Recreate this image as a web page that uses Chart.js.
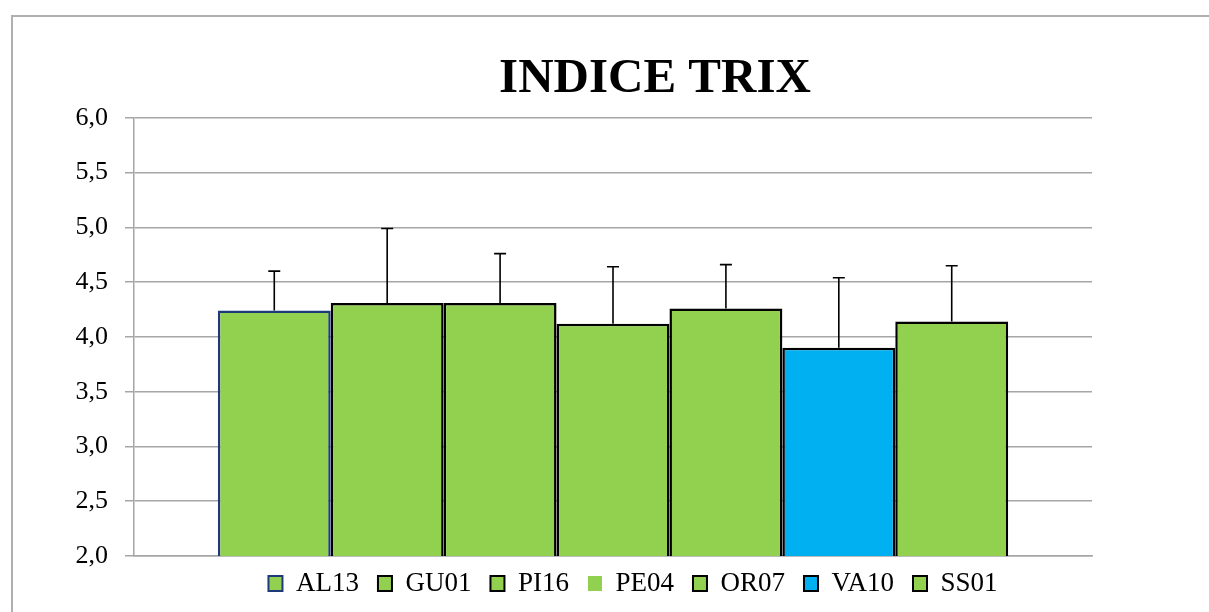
<!DOCTYPE html>
<html>
<head>
<meta charset="utf-8">
<script src="https://cdn.jsdelivr.net/npm/chart.js@4/dist/chart.umd.min.js"></script>
<style>
  html, body { margin: 0; padding: 0; background: #fff; overflow: hidden; }
  body { width: 1209px; height: 612px; position: relative; }
  .frame { position: absolute; left: 11px; top: 15px; width: 1400px; height: 700px;
           border-top: 2px solid #b0b0b0; border-left: 2px solid #b0b0b0; }
  #trix { position: absolute; left: 13px; top: 17px; }
</style>
</head>
<body>
<div class="frame"></div>
<canvas id="trix" width="1240" height="595"></canvas>
<script>
// stations, mean TRIX index and standard deviation
const stations = ['AL13', 'GU01', 'PI16', 'PE04', 'OR07', 'VA10', 'SS01'];
const trixMean = [4.24, 4.31, 4.31, 4.12, 4.26, 3.90, 4.14];
const trixSd   = [0.36, 0.68, 0.45, 0.52, 0.40, 0.64, 0.51];
const yTicks   = [2.0, 2.5, 3.0, 3.5, 4.0, 4.5, 5.0, 5.5, 6.0];

const fillColors   = ['#92d050', '#92d050', '#92d050', '#92d050', '#92d050', '#00b0f0', '#92d050'];
const borderColors = ['#1f3a7a', '#000', '#000', '#000', '#000', '#000', '#000'];
const legendBorder = [2, 2, 2, 0, 2, 2, 2];

const serif = "'Liberation Serif', 'Times New Roman', serif";

// upper error bar with cap on each bar
const errorBars = {
    id: 'errorBars',
    afterDatasetsDraw(chart) {
        const ctx = chart.ctx;
        const y = chart.scales.y;
        chart.data.datasets.forEach(function (ds, i) {
            const bar = chart.getDatasetMeta(i).data[0];
            const top = y.getPixelForValue(trixMean[i] + trixSd[i]);
            ctx.save();
            ctx.strokeStyle = '#000';
            ctx.lineWidth = 1.6;
            ctx.beginPath();
            ctx.moveTo(bar.x, bar.y);
            ctx.lineTo(bar.x, top);
            ctx.moveTo(bar.x - 6, top);
            ctx.lineTo(bar.x + 6, top);
            ctx.stroke();
            ctx.restore();
        });
    }
};

// title centred on the whole frame (a bit right of the legend),
// legend pulled up closer to the axis
const boxShift = {
    id: 'boxShift',
    afterLayout(chart) {
        if (chart.titleBlock) {
            chart.titleBlock.left += 22;
            chart.titleBlock.right += 22;
        }
        if (chart.legend) {
            chart.legend.top -= 5;
            chart.legend.bottom -= 5;
        }
    }
};

const datasets = stations.map(function (name, i) {
    return {
        label: name,
        data: [trixMean[i]],
        backgroundColor: fillColors[i],
        borderColor: borderColors[i],
        borderWidth: 2.5,
        borderSkipped: false,
        categoryPercentage: 0.825,
        barPercentage: 1.0
    };
});

new Chart(document.getElementById('trix'), {
    type: 'bar',
    data: { labels: [''], datasets: datasets },
    options: {
        responsive: false,
        animation: false,
        layout: { padding: { left: 0, right: 0, top: 0, bottom: 0 } },
        scales: {
            x: {
                grid: { display: false, drawTicks: false },
                border: { display: true, color: '#a6a6a6', width: 1.5 },
                ticks: { display: false }
            },
            y: {
                min: 2, max: 6,
                afterBuildTicks: function (s) { s.ticks = yTicks.map(function (v) { return { value: v }; }); },
                afterFit: function (s) { s.width = 121; },
                grid: { color: '#a6a6a6', lineWidth: 1.5, tickLength: 9 },
                border: { color: '#a6a6a6', width: 1.5 },
                ticks: {
                    padding: 17,
                    color: '#000',
                    font: { family: serif, size: 26 },
                    callback: function (v) { return v.toFixed(1).replace('.', ','); }
                }
            },
            pad: {
                position: 'right',
                afterFit: function (s) { s.width = 161; },
                grid: { display: false },
                border: { display: false },
                ticks: { display: false }
            }
        },
        plugins: {
            title: {
                display: true,
                text: 'INDICE TRIX',
                color: '#000',
                font: { family: serif, size: 49, weight: 'bold' },
                padding: { top: 33, bottom: 9 }
            },
            legend: {
                position: 'bottom',
                labels: {
                    color: '#000',
                    font: { family: serif, size: 27 },
                    boxWidth: 14,
                    boxHeight: 15,
                    padding: 19,
                    generateLabels: function (chart) {
                        const items = Chart.defaults.plugins.legend.labels.generateLabels(chart);
                        items.forEach(function (it, i) { it.lineWidth = legendBorder[i]; });
                        return items;
                    }
                }
            },
            tooltip: { enabled: false }
        }
    },
    plugins: [errorBars, boxShift]
});
</script>
</body>
</html>
